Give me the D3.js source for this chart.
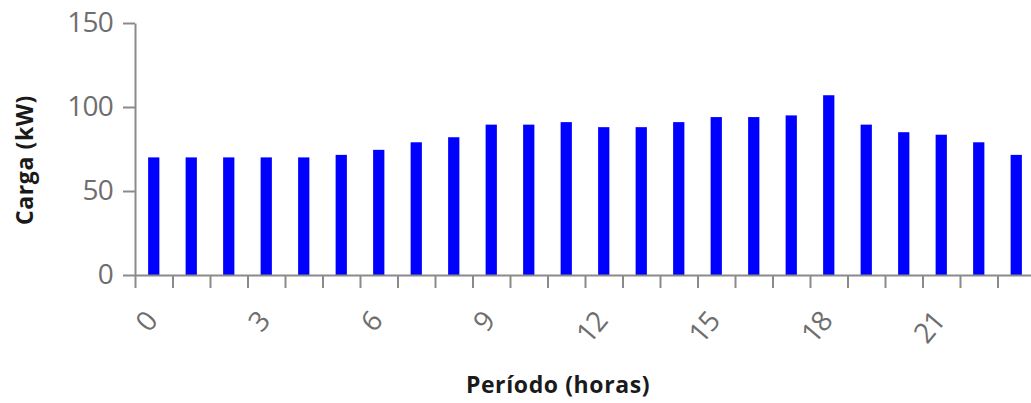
<!DOCTYPE html>
<html>
<head>
<meta charset="utf-8">
<script src="https://cdn.jsdelivr.net/npm/d3@7"></script>
<style>
  html, body { margin: 0; padding: 0; background: #fff; }
  svg { display: block; }
</style>
</head>
<body>
<svg id="chart" width="1031" height="403"></svg>
<script>
const hours = d3.range(0, 24);
const carga = [70, 70, 70, 70, 70, 71.5, 74.5, 79, 82, 89.5, 89.5, 91, 88, 88, 91, 94, 94, 95, 107, 89.5, 85, 83.5, 79, 71.5];
const yTicks = [0, 50, 100, 150];
const xLabelHours = [0, 3, 6, 9, 12, 15, 18, 21];
const yTitle = "Carga (kW)";
const xTitle = "Período (horas)";

const svg = d3.select("#chart");
const mLeft = 135, mRight = 1035, mTop = 23, mBottom = 275;
const axisColor = "#8a8a8a";
const labelColor = "#6e6e6e";
const font = "'Open Sans', sans-serif";

const x = d3.scaleBand().domain(hours).range([mLeft, mRight]).paddingInner(0.7).paddingOuter(0.35);
const xb = d3.scaleLinear().domain([0, 24]).range([mLeft, mRight]);
const y = d3.scaleLinear().domain([0, 150]).range([mBottom, mTop]);

// bars
svg.append("g").selectAll("rect").data(hours).join("rect")
  .attr("x", d => x(d))
  .attr("width", x.bandwidth())
  .attr("y", d => y(carga[d]))
  .attr("height", d => y(0) - y(carga[d]))
  .attr("fill", "#0000ff");

// y axis
const yAxis = svg.append("g").attr("transform", `translate(${mLeft},0)`)
  .call(d3.axisLeft(y).tickValues(yTicks).tickSize(12).tickPadding(10).tickSizeOuter(0));
yAxis.select(".domain").attr("stroke", axisColor).attr("stroke-width", 2);
yAxis.selectAll(".tick line").attr("stroke", axisColor).attr("stroke-width", 2);
yAxis.selectAll(".tick text").attr("fill", labelColor)
  .style("font-family", font).style("font-size", "28px").style("letter-spacing", "-0.8px");

// x axis (ticks at hour boundaries)
const xAxis = svg.append("g").attr("transform", `translate(0,${mBottom})`)
  .call(d3.axisBottom(xb).tickValues(d3.range(0, 25)).tickSize(13).tickFormat("").tickSizeOuter(0));
xAxis.select(".domain").attr("stroke", axisColor).attr("stroke-width", 2);
xAxis.selectAll(".tick line").attr("stroke", axisColor).attr("stroke-width", 2);

// rotated x labels at band centers
svg.append("g").selectAll("text").data(xLabelHours).join("text")
  .attr("transform", d => `translate(${x(d) + x.bandwidth() / 2 + 5},${mBottom + 47}) rotate(-50)`)
  .attr("text-anchor", "end")
  .attr("fill", labelColor)
  .style("font-family", font).style("font-size", "28px").style("letter-spacing", "-1px")
  .text(d => d);

// titles
svg.append("text")
  .attr("transform", `translate(33,160) rotate(-90)`)
  .attr("text-anchor", "middle")
  .attr("fill", "#1a1a1a")
  .style("font-family", font).style("font-size", "23px").style("font-weight", "bold")
  .style("letter-spacing", "0.6px")
  .text(yTitle);

svg.append("text")
  .attr("x", 558).attr("y", 393)
  .attr("text-anchor", "middle")
  .attr("fill", "#1a1a1a")
  .style("font-family", font).style("font-size", "23px").style("font-weight", "bold")
  .style("letter-spacing", "0.6px")
  .text(xTitle);
</script>
</body>
</html>
